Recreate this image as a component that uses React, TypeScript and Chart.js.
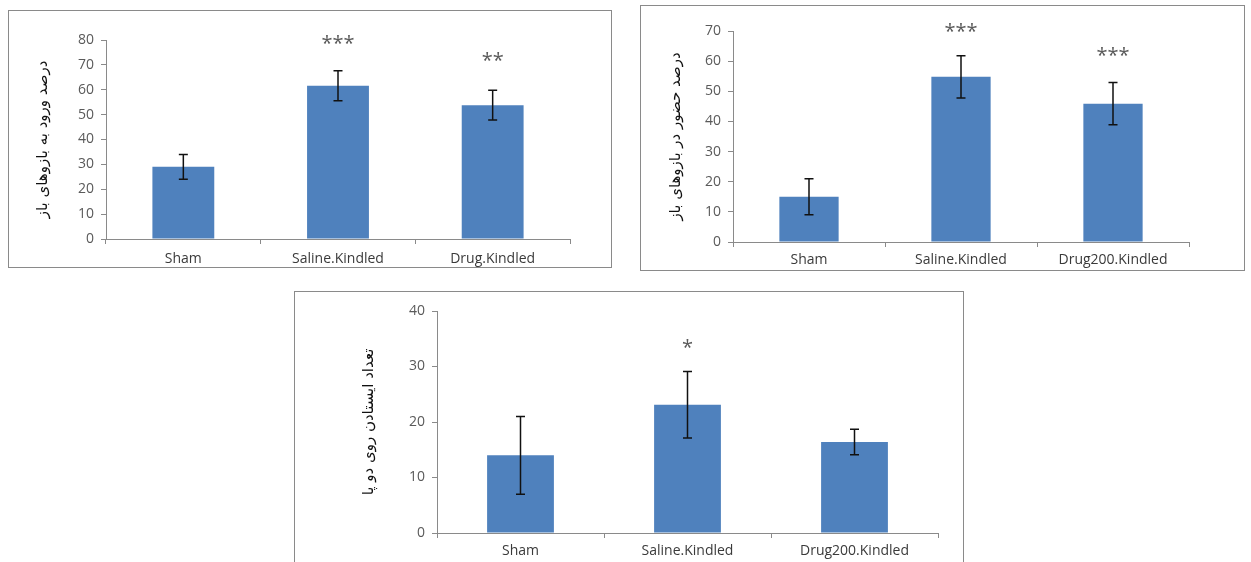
import React, { useEffect, useRef } from "react";
import { Chart, registerables } from "chart.js";

Chart.register(...registerables);

// ---------- Data ----------
const categoriesA = ["Sham", "Saline.Kindled", "Drug.Kindled"];
const meansA = [29, 61.6, 53.8];
const errorsA = [5, 6, 6];
const starsA = ["", "***", "**"];
const starLevelsA = [0, 80, 73];
const yMaxA = 80;
const yTitleA = "درصد ورود به بازوهای باز";

const categoriesB = ["Sham", "Saline.Kindled", "Drug200.Kindled"];
const meansB = [15, 54.8, 45.9];
const errorsB = [6, 7, 7];
const starsB = ["", "***", "***"];
const starLevelsB = [0, 71, 63];
const yMaxB = 70;
const yTitleB = "درصد حضور در بازوهای باز";

const categoriesC = ["Sham", "Saline.Kindled", "Drug200.Kindled"];
const meansC = [14, 23.1, 16.4];
const errorsC = [7, 6, 2.3];
const starsC = ["", "*", ""];
const starLevelsC = [0, 34, 0];
const yMaxC = 40;
const yTitleC = "تعداد ایستادن روی دو پا";

const yStep = 10;

// ---------- Styles ----------
const BAR_COLOR = "#4F81BD";
const AXIS_COLOR = "#8a8a8a";
const TICK_FONT = "Open Sans";
const TITLE_FONT = "DejaVu Sans";

const errorBarPlugin = {
  id: "errorBars",
  afterDatasetsDraw(chart: any, _args: any, opts: any) {
    const meta = chart.getDatasetMeta(0);
    const y = chart.scales.y;
    const ctx = chart.ctx;
    ctx.save();
    ctx.strokeStyle = "#111";
    ctx.lineWidth = 1.5;
    const cap = 4.5;
    meta.data.forEach((bar: any, i: number) => {
      const m = opts.means[i];
      const e = opts.errors[i];
      const x = bar.x;
      const yT = y.getPixelForValue(m + e);
      const yB = y.getPixelForValue(m - e);
      ctx.beginPath();
      ctx.moveTo(x, yT);
      ctx.lineTo(x, yB);
      ctx.moveTo(x - cap, yT);
      ctx.lineTo(x + cap, yT);
      ctx.moveTo(x - cap, yB);
      ctx.lineTo(x + cap, yB);
      ctx.stroke();
      const s = opts.stars[i];
      if (s) {
        ctx.fillStyle = "#5a5a5a";
        ctx.font = `20px ${TICK_FONT}`;
        ctx.textAlign = "center";
        ctx.textBaseline = "middle";
        ctx.fillText(s, x, y.getPixelForValue(opts.starLevels[i]) + 4);
      }
    });
    ctx.restore();
  },
};

type PanelProps = {
  left: number;
  top: number;
  width: number;
  height: number;
  noBottom?: boolean;
  categories: string[];
  means: number[];
  errors: number[];
  stars: string[];
  starLevels: number[];
  yMax: number;
  yTitle: string;
  yAxisWidth: number;
  xAxisHeight: number;
  padTop: number;
  padRight: number;
  titlePad: number;
  barPct: number;
  xLabelPad: number;
};

function Panel(p: PanelProps) {
  const ref = useRef<HTMLCanvasElement>(null);
  const cw = p.width - 2;
  const ch = p.noBottom ? p.height - 1 : p.height - 2;
  useEffect(() => {
    if (!ref.current) return;
    const chart = new Chart(ref.current, {
      type: "bar",
      data: {
        labels: p.categories,
        datasets: [
          {
            data: p.means,
            backgroundColor: BAR_COLOR,
            borderWidth: 0,
            categoryPercentage: 1,
            barPercentage: p.barPct,
          },
        ],
      },
      options: {
        animation: false,
        responsive: false,
        maintainAspectRatio: false,
        layout: { padding: { top: p.padTop, right: p.padRight, left: 0, bottom: 0 } },
        plugins: {
          legend: { display: false },
          tooltip: { enabled: false },
          // @ts-ignore
          errorBars: {
            means: p.means,
            errors: p.errors,
            stars: p.stars,
            starLevels: p.starLevels,
          },
        },
        scales: {
          x: {
            grid: {
              offset: true,
              drawOnChartArea: false,
              drawTicks: true,
              tickLength: 5,
              color: AXIS_COLOR,
            },
            border: { color: AXIS_COLOR, width: 1 },
            ticks: {
              color: "#3a3a3a",
              font: { family: TICK_FONT, size: 14 },
              padding: p.xLabelPad,
            },
            afterFit: (s: any) => {
              s.height = p.xAxisHeight;
            },
          },
          y: {
            min: 0,
            max: p.yMax,
            ticks: {
              stepSize: yStep,
              color: "#5a5a5a",
              font: { family: TICK_FONT, size: 14 },
              padding: 7,
            },
            grid: {
              drawOnChartArea: false,
              drawTicks: true,
              tickLength: 5,
              color: AXIS_COLOR,
            },
            border: { color: AXIS_COLOR, width: 1 },
            title: {
              display: true,
              text: p.yTitle,
              color: "#111",
              font: { family: TITLE_FONT, size: 15 },
              padding: { top: p.titlePad, bottom: 0 },
            },
            afterFit: (s: any) => {
              s.width = p.yAxisWidth;
            },
          },
        },
      },
      plugins: [errorBarPlugin as any],
    });
    return () => chart.destroy();
  }, []);
  return (
    <div
      style={{
        position: "absolute",
        left: p.left,
        top: p.top,
        width: p.width,
        height: p.height,
        boxSizing: "border-box",
        border: `1px solid ${AXIS_COLOR}`,
        borderBottom: p.noBottom ? "none" : `1px solid ${AXIS_COLOR}`,
        background: "#fff",
      }}
    >
      <canvas ref={ref} width={cw} height={ch} style={{ display: "block", width: cw, height: ch }} />
    </div>
  );
}

export default function App() {
  return (
    <div
      style={{
        position: "absolute",
        left: 0,
        top: 0,
        width: 1251,
        height: 562,
        overflow: "hidden",
        background: "#fff",
      }}
    >
      <Panel
        left={8}
        top={10}
        width={604}
        height={258}
        categories={categoriesA}
        means={meansA}
        errors={errorsA}
        stars={starsA}
        starLevels={starLevelsA}
        yMax={yMaxA}
        yTitle={yTitleA}
        yAxisWidth={97}
        xAxisHeight={28}
        padTop={29}
        padRight={41}
        titlePad={25}
        barPct={0.4}
        xLabelPad={7}
      />
      <Panel
        left={640}
        top={5}
        width={605}
        height={266}
        categories={categoriesB}
        means={meansB}
        errors={errorsB}
        stars={starsB}
        starLevels={starLevelsB}
        yMax={yMaxB}
        yTitle={yTitleB}
        yAxisWidth={92}
        xAxisHeight={28}
        padTop={25}
        padRight={55}
        titlePad={26}
        barPct={0.39}
        xLabelPad={5}
      />
      <Panel
        left={294}
        top={291}
        width={670}
        height={271}
        noBottom
        categories={categoriesC}
        means={meansC}
        errors={errorsC}
        stars={starsC}
        starLevels={starLevelsC}
        yMax={yMaxC}
        yTitle={yTitleC}
        yAxisWidth={142}
        xAxisHeight={29}
        padTop={19}
        padRight={25}
        titlePad={65}
        barPct={0.4}
        xLabelPad={5}
      />
    </div>
  );
}
